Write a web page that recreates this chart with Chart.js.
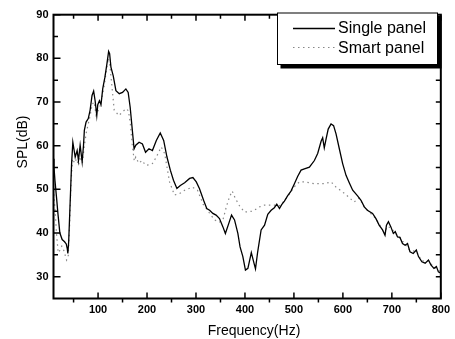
<!DOCTYPE html>
<html><head><meta charset="utf-8">
<script src="https://cdn.jsdelivr.net/npm/chart.js@4/dist/chart.umd.min.js"></script>
<style>html,body{margin:0;padding:0;background:#fff;}canvas{display:block;}</style>
</head><body>
<canvas id="c" width="455" height="339"></canvas>
<script>
// ---- data ----
const seriesNames = ['Single panel', 'Smart panel'];
const xTitle = 'Frequency(Hz)';
const yTitle = 'SPL(dB)';
const xTickLabels = [100, 200, 300, 400, 500, 600, 700, 800];
const yTickLabels = [30, 40, 50, 60, 70, 80, 90];

const singleFreq = [9,10,12,15.3,18,22,26.7,31.6,35,37,38.3,40,42,44,46,48.5,53.3,57.3,60,63.4,67.5,70.3,72,75.5,80,83.7,87.7,91,94,97.4,99.4,102.8,106,109.5,114,118,121.6,123.6,126.3,131,136.5,143.3,150,156.8,161.5,165.6,170,173.6,177,183.8,190.6,197,204,211,219,227,234,240.7,247.6,254,261,268,276.8,287,293.7,300.6,307,315.5,322,327.8,334.5,341,348,355,360,367,372.6,378.7,385.5,390,395.7,401,406,413,417.5,421.5,426,433,440,446.6,453.5,460,465,470.5,475,480.6,487,494,501,507.8,514.6,521.4,531.6,541.8,548.5,555.5,558.7,562,565.6,570,575.8,581,586,592.7,599.5,606.4,613,620,630,637,643.7,650,660.6,667.5,674,681,686,689,693,698,703,707,711.6,716.5,721.8,727,732,737,743.6,750,754.4,761.3,768,774.8,779.7,786,791,795,800];
const singleSPL = [57,55,52,48,44.5,40,38.5,38,37.5,36.5,35.3,38,44,50,56,60.8,57.4,58.9,56.6,60.1,56.3,60.1,63.5,65.4,66.2,68.1,71.5,72.5,70.3,66.9,69.4,70.3,69.4,73,75.7,78.7,81.6,81.1,78,76,72.6,71.9,72.2,73,72.2,68.8,63.5,59.3,60.1,60.8,60.4,58.5,59.3,58.9,61.2,62.9,61.2,57.4,54.4,52.1,50.2,50.9,51.5,52.5,52.7,51.7,50.2,47.5,45.6,45.2,44.5,44.1,43.3,41.4,39.9,42.2,44.1,43,39.9,36.8,34.6,31.5,31.9,35.5,33.5,31.8,35.7,40.7,41.8,44.3,45.2,45.8,46.6,45.6,46.5,47.3,48.5,49.6,51.3,53,54.4,54.7,55.1,56.6,58.2,61,61.8,59.5,61.5,63.8,65,64.6,62.7,59.3,55.9,53.2,51.5,49.8,48.5,47.5,46,45.2,44.5,43.3,41.8,40.7,39.5,41.8,42.6,41.4,39.9,40.3,39.1,39,37.6,37.2,37.6,35.7,35.3,36.1,34.6,33.4,33.1,33.8,32.7,31.9,32.3,31.1,30.8];

const smartFreq = [9,11,13,15,18.6,22,26,30,35.7,39,42,45,48,52,56,60,64,68,72,76,80,84,88,92,96,100,104,108,113,118,121,124,128,133,138,142,148,157,162,166,170,174,177,183,190,197,204,211,219,229,236,246,256,266,277,292.5,303,315,328,338,348,355,362,368.5,374,380,389,399,416,430,440,460,470,480,490,500,511,521,542,562,576,586,599.5,611,623,633,643.7,654,667.5,681,686,690,698,707,716,727,737,750,761,774,786,795,800];
const smartSPL = [50,47,44,40,35.5,36,37,36,33.8,34.5,42,52,57,56,57,55.5,57.5,56,60,63,65,67,69.5,70,67,68,69,71,74,78,80,78.5,74,68.1,67.5,66.9,67.5,68.5,68,65,60,56.5,57.4,56,56.6,55.5,55.6,55.9,57.4,59.7,58.2,51.7,48.7,49,49.8,50.5,49.8,46.5,44.5,43,42.5,43,46,48.3,49.6,48,46.2,44.8,45,46,46.4,46.4,46.2,47.3,48.8,50.5,51.7,51.7,51.3,51.3,51.7,50.5,49.4,48.3,47.1,48,46,44.8,43.3,40.7,39.8,41.5,41.2,40,39,37.4,36,35.8,33.6,33.6,32.2,31.5,31];

const FONT = '"Liberation Sans", Arial, Helvetica, sans-serif';

const framePlugin = {
  id: 'frame',
  afterDatasetsDraw(chart) {
    const ctx = chart.ctx;
    const a = chart.chartArea;
    const xs = chart.scales.x, ys = chart.scales.y;
    ctx.save();
    ctx.strokeStyle = '#000';
    // frame
    ctx.lineWidth = 2;
    ctx.strokeRect(a.left, a.top, a.right - a.left, a.bottom - a.top);
    // ticks
    ctx.lineWidth = 1.5;
    ctx.beginPath();
    for (let v = 50; v <= 800; v += 50) {
      const px = xs.getPixelForValue(v);
      const major = v % 100 === 0;
      if (major) { ctx.moveTo(px, a.bottom); ctx.lineTo(px, a.bottom - 6); }
      else { ctx.moveTo(px, a.bottom); ctx.lineTo(px, a.bottom + 4); }
      ctx.moveTo(px, a.top); ctx.lineTo(px, a.top + (major ? 6 : 4));
    }
    for (let v = 30; v <= 90; v += 5) {
      const py = ys.getPixelForValue(v);
      const major = v % 10 === 0;
      ctx.moveTo(a.left, py); ctx.lineTo(a.left + (major ? 7 : 4.5), py);
      ctx.moveTo(a.right, py); ctx.lineTo(a.right - 5, py);
    }
    ctx.stroke();

    // legend box with drop shadow
    const lx = 277, ly = 12.5, lw = 161, lh = 52.5;
    ctx.fillStyle = '#000';
    ctx.fillRect(lx + 3.5, ly + 3.5, lw, lh);
    ctx.fillStyle = '#fff';
    ctx.fillRect(lx, ly, lw, lh);
    ctx.lineWidth = 1;
    ctx.strokeRect(lx + 0.5, ly + 0.5, lw - 1, lh - 1);
    const ds = chart.data.datasets;
    ctx.lineWidth = ds[0].borderWidth;
    ctx.strokeStyle = ds[0].borderColor;
    ctx.setLineDash([]);
    ctx.beginPath(); ctx.moveTo(293, 28.5); ctx.lineTo(335, 28.5); ctx.stroke();
    ctx.lineWidth = ds[1].borderWidth;
    ctx.strokeStyle = ds[1].borderColor;
    ctx.setLineDash(ds[1].borderDash);
    ctx.beginPath(); ctx.moveTo(293, 47.5); ctx.lineTo(335, 47.5); ctx.stroke();
    ctx.setLineDash([]);
    ctx.fillStyle = '#000';
    ctx.font = '16px ' + FONT;
    ctx.textAlign = 'left';
    ctx.textBaseline = 'alphabetic';
    ctx.fillText(ds[0].label, 338, 32.7);
    ctx.fillText(ds[1].label, 338, 52.7);

    // axis titles
    ctx.font = '14px ' + FONT;
    ctx.textAlign = 'center';
    ctx.fillText(xTitle, 254, 335);
    ctx.translate(26.5, 142);
    ctx.rotate(-Math.PI / 2);
    ctx.fillText(yTitle, 0, 0);
    ctx.restore();
  }
};

new Chart(document.getElementById('c'), {
  type: 'line',
  data: {
    datasets: [
      {
        label: seriesNames[0],
        data: singleFreq.map((f, i) => ({x: f, y: singleSPL[i]})),
        borderColor: '#000', borderWidth: 1.3, pointRadius: 0, fill: false
      },
      {
        label: seriesNames[1],
        data: smartFreq.map((f, i) => ({x: f, y: smartSPL[i]})),
        borderColor: '#888888', borderWidth: 1.2, borderDash: [1.5, 3.5], pointRadius: 0, fill: false
      }
    ]
  },
  options: {
    responsive: false,
    animation: false,
    devicePixelRatio: 1,
    layout: {padding: {top: 14.7, right: 13.3, left: 0, bottom: 0}},
    plugins: {legend: {display: false}, tooltip: {enabled: false}},
    elements: {line: {tension: 0}},
    scales: {
      x: {
        type: 'linear', min: 9, max: 800,
        afterBuildTicks: s => { s.ticks = xTickLabels.map(v => ({value: v})); },
        afterFit: s => { s.height = 40.5; },
        grid: {display: false, drawTicks: false},
        border: {display: false},
        ticks: {padding: 5, color: '#000', maxRotation: 0, autoSkip: false, font: {family: FONT, size: 11, weight: 'bold'}}
      },
      y: {
        type: 'linear', min: 25, max: 90,
        afterBuildTicks: s => { s.ticks = yTickLabels.map(v => ({value: v})); },
        afterFit: s => { s.width = 53.5; },
        grid: {display: false, drawTicks: false},
        border: {display: false},
        ticks: {padding: 5, color: '#000', autoSkip: false, font: {family: FONT, size: 11, weight: 'bold'}}
      }
    }
  },
  plugins: [framePlugin]
});
</script>
</body></html>
